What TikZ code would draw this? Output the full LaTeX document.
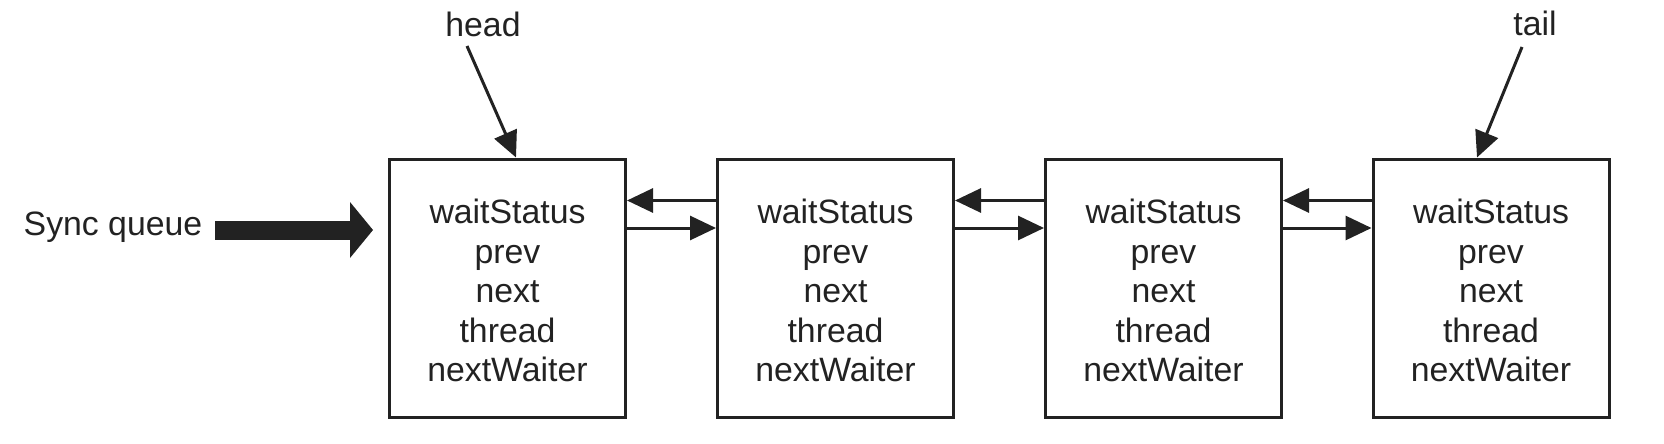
\documentclass[tikz,border=0pt]{standalone}
\usepackage{fontspec}
\setmainfont{Liberation Sans}
\usetikzlibrary{arrows.meta}
\definecolor{ink}{HTML}{222222}
\tikzset{
  qbox/.style={draw=ink, line width=3pt, minimum width=236pt, minimum height=258pt, inner sep=0pt},
  qtext/.style={inner sep=0pt, align=center, text=ink, font=\fontsize{33.8}{39.5}\selectfont},
  lbl/.style={text=ink, inner sep=0pt, font=\fontsize{33.8}{39.5}\selectfont},
  link/.style={draw=ink, line width=3pt, -{Triangle[length=26pt,width=24pt]}},
  bigarrow/.style={draw=ink, line width=19pt, -{Triangle[length=23pt 0 0,width=56pt 0 0,line width=0pt]}}
}
\begin{document}
\begin{tikzpicture}[x=1pt,y=-1pt]
\useasboundingbox (0,0) rectangle (1664,444);
\foreach \i/\cx in {1/507.5, 2/835.5, 3/1163.5, 4/1491} {
  \node[qbox] (b\i) at (\cx,288) {};
  \node[qtext] (t\i) at ([yshift=-2.5pt]b\i.center) {waitStatus\\prev\\next\\thread\\nextWaiter};
}
\foreach \a/\b in {1/2, 2/3, 3/4} {
  \draw[link] ([yshift=-43pt]b\b.north west) -- ([yshift=-43pt]b\a.north east);
  \draw[link] ([yshift=-70.5pt]b\a.north east) -- ([yshift=-70.5pt]b\b.north west);
}
\node[lbl, anchor=base] (head) at (483,37) {head};
\node[lbl, anchor=base] (tail) at (1535,36) {tail};
\coordinate (hs) at (467,46);
\coordinate (ts) at (1522,47);
\draw[link] (hs) -- ([xshift=8.5pt]b1.north);
\draw[link] (ts) -- ([xshift=-14pt]b4.north);
\node[lbl, anchor=base] (sq) at (113,235) {Sync queue};
\coordinate (sqa) at (215,230);
\coordinate (sqb) at (373,230);
\draw[bigarrow] (sqa) -- (sqb);
\end{tikzpicture}
\end{document}
